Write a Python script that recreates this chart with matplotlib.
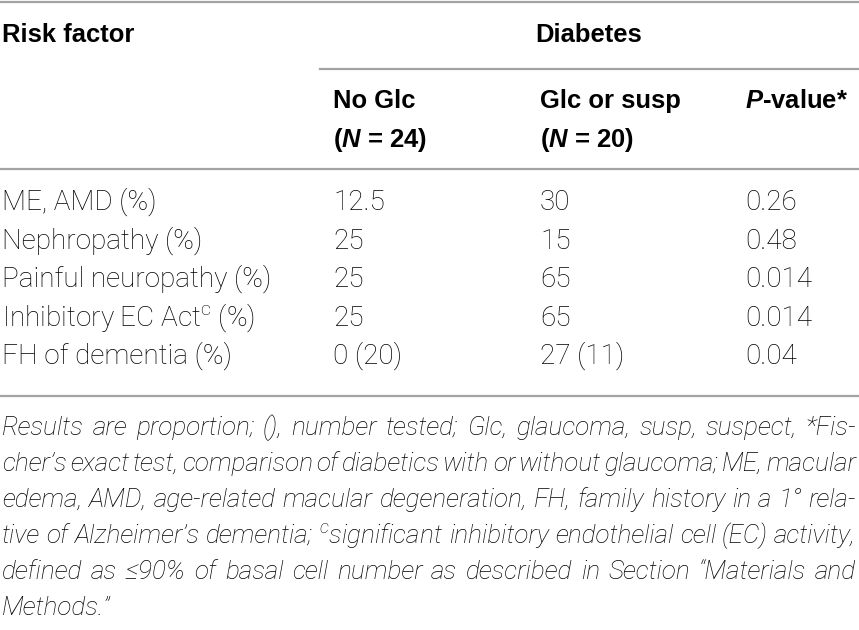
import matplotlib
matplotlib.use("Agg")
import matplotlib.pyplot as plt

BODY = 'Roboto'
HEAD = 'Liberation Sans'
plt.rcParams['font.family'] = [BODY, 'DejaVu Sans']
plt.rcParams['mathtext.fontset'] = 'custom'
plt.rcParams['mathtext.rm'] = BODY + ':light'
plt.rcParams['mathtext.it'] = BODY + ':italic:light'
plt.rcParams['mathtext.bf'] = HEAD + ':bold'
plt.rcParams['mathtext.bfit'] = HEAD + ':italic:bold'

# table content
header_left = "Risk factor"
header_group = "Diabetes"
col_heads = ["No Glc", "Glc or susp", r"$\mathbfit{P}$-value*"]
col_sub = [r"($\mathbfit{N}$ = 24)", r"($\mathbfit{N}$ = 20)", ""]
risk_factors = ["ME, AMD (%)", "Nephropathy (%)", "Painful neuropathy (%)",
                r"Inhibitory EC Act$^{\mathrm{c}}$ (%)", "FH of dementia (%)"]
no_glc = ["12.5", "25", "25", "25", "0 (20)"]
glc_susp = ["30", "15", "65", "65", "27 (11)"]
p_values = ["0.26", "0.48", "0.014", "0.014", "0.04"]
footnote = [
    "Results are proportion; (), number tested; Glc, glaucoma, susp, suspect, *Fis-",
    "cher\u2019s exact test, comparison of diabetics with or without glaucoma; ME, macular",
    "edema, AMD, age-related macular degeneration, FH, family history in a 1\u00b0 rela-",
    "tive of Alzheimer\u2019s dementia; $^{\\mathit{c}}$significant inhibitory endothelial cell (EC) activity,",
    "defined as \u226490% of basal cell number as described in Section \u201cMaterials and",
    "Methods.\u201d",
]

W, H = 859, 630
fig = plt.figure(figsize=(W / 100, H / 100), dpi=100)
ax = fig.add_axes([0, 0, 1, 1])
ax.set_xlim(0, W)
ax.set_ylim(H, 0)
ax.axis('off')
renderer = fig.canvas.get_renderer()


def width_of(s, **kw):
    t = ax.text(0, 0, s, **kw)
    w = t.get_window_extent(renderer).width
    t.remove()
    return w


# font sizes fitted to widths
head_kw = dict(family=HEAD, weight='bold')
fs_head = 10 * 82 / width_of("No Glc", fontsize=10, **head_kw)
body_kw = dict(family=BODY, weight='light')
fs_body = 10 * 423 / (width_of("ME, AMD (%)", fontsize=10, **body_kw)
                      + width_of("Painful neuropathy (%)", fontsize=10, **body_kw))
foot_kw = dict(family=BODY, weight='light', style='italic')
nat = sum(width_of(l, fontsize=10, **foot_kw) for l in footnote[:5]) / 5
fs_foot = 10 * 845 / nat

col_x = [333, 540, 745]
line_kw = dict(color='#a3a3a3', lw=1.6)

# rules
ax.plot([0, W], [2, 2], **line_kw)
ax.plot([320, W], [69, 69], **line_kw)
ax.plot([0, W], [169, 169], **line_kw)
ax.plot([0, W], [396, 396], **line_kw)

# header
ax.text(2, 42, header_left, fontsize=fs_head, va='baseline', **head_kw)
ax.text(535, 42, header_group, fontsize=fs_head, va='baseline', **head_kw)
for x, h, s in zip(col_x, col_heads, col_sub):
    ax.text(x, 108, h, fontsize=fs_head, va='baseline', **head_kw)
    if s:
        ax.text(x, 147, s, fontsize=fs_head, va='baseline', **head_kw)

# body rows
row_y = [210, 249, 287, 326, 364]
for y, rf, a, b, p in zip(row_y, risk_factors, no_glc, glc_susp, p_values):
    ax.text(2, y, rf, fontsize=fs_body, va='baseline', **body_kw)
    ax.text(col_x[0], y, a, fontsize=fs_body, va='baseline', **body_kw)
    ax.text(col_x[1], y, b, fontsize=fs_body, va='baseline', **body_kw)
    ax.text(col_x[2], y, p, fontsize=fs_body, va='baseline', **body_kw)

# footnote, justified
x0, x1 = 2, 856
foot_y = [435, 471, 507, 543, 579, 615]
space = width_of("a a", fontsize=fs_foot, **foot_kw) - width_of("aa", fontsize=fs_foot, **foot_kw)
for i, (y, line) in enumerate(zip(foot_y, footnote)):
    words = line.split(' ')
    objs = [ax.text(0, y, w, fontsize=fs_foot, va='baseline', **foot_kw) for w in words]
    widths = [o.get_window_extent(renderer).width for o in objs]
    if i < len(footnote) - 1 and len(words) > 1:
        gap = (x1 - x0 - sum(widths)) / (len(words) - 1)
    else:
        gap = space
    x = x0
    for o, w in zip(objs, widths):
        o.set_x(x)
        x += w + gap

fig.savefig("out.png", dpi=100)
